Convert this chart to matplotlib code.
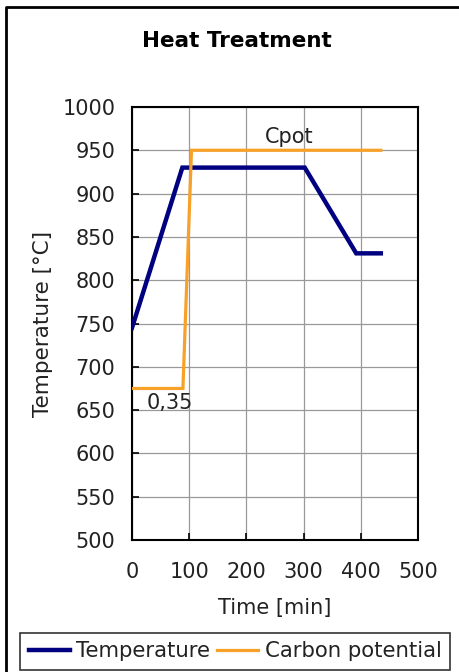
import matplotlib.pyplot as plt
from matplotlib.lines import Line2D

# temperature profile [min, °C]
temp_time = [0, 88, 302, 392, 435]
temp_vals = [745, 930, 930, 831, 831]

# carbon potential drawn on the temperature scale
cpot_time = [0, 89, 104, 435]
cpot_vals = [675, 675, 950, 950]

x_ticks = [0, 100, 200, 300, 400, 500]
y_ticks = [500, 550, 600, 650, 700, 750, 800, 850, 900, 950, 1000]

navy = "#000080"
orange = "#F7A128"
txt = "#222222"

plt.rcParams["font.family"] = ["DejaVu Sans"]

fig = plt.figure(figsize=(4.59, 6.72), dpi=100)
ax = fig.add_axes([0.2876, 0.1964, 0.6231, 0.6444])

ax.plot(temp_time, temp_vals, color=navy, lw=3.2, label="Temperature",
        solid_joinstyle="miter", zorder=3)
ax.plot(cpot_time, cpot_vals, color=orange, lw=2.3, label="Carbon potential",
        solid_joinstyle="miter", zorder=3)

ax.text(274, 954, "Cpot", fontsize=15, ha="center", va="bottom", color=txt)
ax.text(26, 670, "0,35", fontsize=15, ha="left", va="top", color=txt)

ax.set_xlim(0, 500)
ax.set_ylim(500, 1000)
ax.set_xticks(x_ticks)
ax.set_yticks(y_ticks)
ax.tick_params(axis="y", direction="in", length=5, width=1.2, labelsize=15,
               pad=12, labelcolor=txt)
ax.tick_params(axis="x", direction="in", length=5, width=1.2, labelsize=15,
               pad=15.5, labelcolor=txt)
ax.grid(True, color="#999999", lw=0.9)
ax.set_axisbelow(True)
for s in ax.spines.values():
    s.set_linewidth(1.5)

fig.text(237 / 459, 1 - 41 / 672, "Heat Treatment", fontsize=15.5,
         fontweight="bold", ha="center", va="center", color="black")
ax.set_xlabel("Time [min]", fontsize=15, labelpad=12, color=txt)
ax.set_ylabel("Temperature [°C]", fontsize=15.5, labelpad=7, color=txt)

leg = fig.legend(loc="lower center", bbox_to_anchor=(235 / 459, 0.0), ncol=2,
                 fontsize=15.3, frameon=True, fancybox=False, handlelength=1.95,
                 handletextpad=0.3, columnspacing=0.3, borderpad=0.4,
                 borderaxespad=0.1, labelcolor=txt)
leg.get_frame().set_edgecolor("black")
leg.get_frame().set_linewidth(1.2)

# chart area border: top and left edges only
fig.add_artist(Line2D([6 / 459, 6 / 459, 1], [0, 1 - 7 / 672, 1 - 7 / 672],
                      transform=fig.transFigure, color="black", lw=2.0))

fig.savefig("out.png", dpi=100)
